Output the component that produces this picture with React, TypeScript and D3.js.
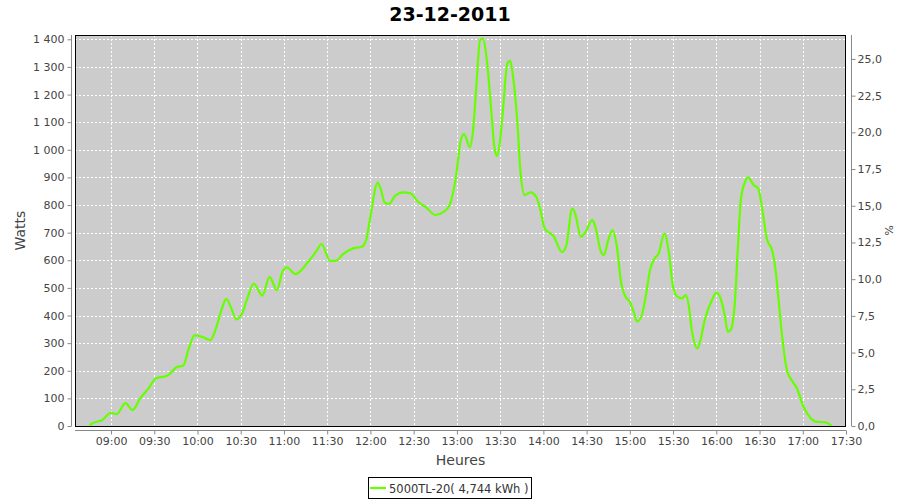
import React, { useEffect, useRef } from 'react';
import * as d3 from 'd3';

const title = '23-12-2011';
const seriesName = '5000TL-20( 4,744 kWh )';

// time of reading (HH:MM) and power in watts
const times = [
  '08:45', '08:48', '08:54', '09:00', '09:04', '09:10', '09:15', '09:20', '09:26', '09:31',
  '09:39', '09:46', '09:50', '09:54', '09:58', '10:03', '10:09', '10:12', '10:17', '10:20',
  '10:23', '10:27', '10:31', '10:35', '10:39', '10:45', '10:50', '10:55', '10:59', '11:02',
  '11:08', '11:16', '11:23', '11:26', '11:32', '11:36', '11:41', '11:48', '11:54', '11:57',
  '12:00', '12:05', '12:07', '12:10', '12:13', '12:17', '12:23', '12:28', '12:33', '12:39',
  '12:45', '12:51', '12:55', '12:59', '13:03', '13:05', '13:09', '13:11', '13:14', '13:16',
  '13:18', '13:21', '13:24', '13:26', '13:28', '13:30', '13:32', '13:35', '13:37', '13:39',
  '13:42', '13:44', '13:47', '13:51', '13:55', '13:58', '14:01', '14:07', '14:13', '14:16',
  '14:20', '14:22', '14:26', '14:29', '14:34', '14:36', '14:40', '14:42', '14:45', '14:48',
  '14:51', '14:54', '14:57', '15:00', '15:03', '15:05', '15:08', '15:11', '15:14', '15:17',
  '15:20', '15:24', '15:27', '15:30', '15:33', '15:36', '15:39', '15:41', '15:43', '15:47',
  '15:49', '15:52', '15:57', '16:00', '16:03', '16:06', '16:08', '16:10', '16:13', '16:15',
  '16:17', '16:20', '16:22', '16:26', '16:29', '16:32', '16:35', '16:39', '16:41', '16:43',
  '16:46', '16:49', '16:53', '16:56', '17:00', '17:03', '17:09', '17:16', '17:20',
];
const watts = [
  3, 12, 22, 48, 43, 83, 58, 98, 136, 172,
  182, 214, 218, 281, 328, 323, 311, 341, 426, 460,
  432, 386, 408, 468, 516, 472, 540, 492, 559, 574,
  550, 589, 637, 659, 598, 598, 622, 643, 649, 673,
  758, 881, 860, 808, 804, 833, 846, 842, 812, 790,
  764, 776, 800, 890, 1041, 1057, 1009, 1060, 1270, 1397,
  1403, 1313, 1132, 1011, 977, 1035, 1144, 1313, 1322, 1264,
  1096, 927, 836, 846, 830, 782, 714, 688, 630, 655,
  787, 770, 685, 700, 746, 722, 631, 619, 673, 709,
  649, 517, 468, 450, 408, 378, 396, 468, 565, 605,
  625, 697, 631, 504, 468, 462, 474, 432, 348, 281,
  311, 384, 456, 483, 462, 396, 341, 348, 456, 649,
  818, 884, 900, 872, 860, 782, 680, 631, 571, 468,
  311, 203, 160, 136, 76, 46, 16, 13, 0,
];

const wattTicks = [0, 100, 200, 300, 400, 500, 600, 700, 800, 900, 1000, 1100, 1200, 1300, 1400];
const pctTicks = [0, 2.5, 5, 7.5, 10, 12.5, 15, 17.5, 20, 22.5, 25];
const timeTicks = [
  '09:00', '09:30', '10:00', '10:30', '11:00', '11:30', '12:00', '12:30', '13:00',
  '13:30', '14:00', '14:30', '15:00', '15:30', '16:00', '16:30', '17:00', '17:30',
];

const toMin = (s: string) => {
  const [h, m] = s.split(':').map(Number);
  return h * 60 + m;
};

const W = 900;
const H = 500;

export default function App() {
  const ref = useRef<SVGSVGElement>(null);

  useEffect(() => {
    if (!ref.current) return;
    const svg = d3.select(ref.current);
    svg.selectAll('*').remove();

    const left = 75, right = 846, top = 35, bottom = 426;
    const font = 'DejaVu Sans, sans-serif';
    const grey = '#444';

    const x = d3.scaleLinear().domain([toMin('08:35'), toMin('17:30')]).range([left, right]);
    const y = d3.scaleLinear().domain([0, 1415.6]).range([bottom, top]);
    const yPct = d3.scaleLinear().domain([0, 26.63]).range([bottom, top]);

    svg.append('rect').attr('width', W).attr('height', H).attr('fill', '#fff');

    // plot background
    svg.append('rect')
      .attr('x', left).attr('y', top)
      .attr('width', right - left).attr('height', bottom - top)
      .attr('fill', '#cccccc');

    // grid
    const grid = svg.append('g')
      .attr('stroke', '#fff').attr('stroke-width', 1).attr('stroke-dasharray', '2,2')
      .attr('shape-rendering', 'crispEdges');
    grid.selectAll('line.h').data(wattTicks).enter().append('line')
      .attr('x1', left).attr('x2', right)
      .attr('y1', d => Math.round(y(d)) + 0.5).attr('y2', d => Math.round(y(d)) + 0.5);
    grid.selectAll('line.v').data(timeTicks.slice(0, -1)).enter().append('line')
      .attr('y1', top).attr('y2', bottom)
      .attr('x1', d => Math.round(x(toMin(d))) + 0.5).attr('x2', d => Math.round(x(toMin(d))) + 0.5);

    // series
    const pts = times.map((t, i) => [toMin(t), watts[i]] as [number, number]);
    const line = d3.line<[number, number]>()
      .x(d => x(d[0]))
      .y(d => y(d[1]))
      .curve(d3.curveMonotoneX);
    svg.append('path')
      .attr('d', line(pts))
      .attr('fill', 'none')
      .attr('stroke', '#66ff00')
      .attr('stroke-width', 2.2)
      .attr('stroke-linejoin', 'round');

    // plot outline
    svg.append('rect')
      .attr('x', left + 0.5).attr('y', top + 0.5)
      .attr('width', right - left - 1).attr('height', bottom - top)
      .attr('fill', 'none').attr('stroke', '#000').attr('stroke-width', 1);

    // left axis
    const yAxis = d3.axisLeft(y).tickValues(wattTicks).tickSize(4).tickPadding(3)
      .tickFormat(d => d3.format(',')(d as number).replace(',', ' '));
    const gl = svg.append('g').attr('transform', `translate(${71.5},0)`).call(yAxis);
    gl.select('.domain').attr('stroke', '#888').attr('d', `M0,${top}V${bottom}`);
    gl.selectAll('.tick line').attr('stroke', '#888');
    gl.selectAll('.tick text').attr('fill', grey).attr('font-family', font).attr('font-size', 11);

    // right axis
    const rAxis = d3.axisRight(yPct).tickValues(pctTicks).tickSize(4).tickPadding(2)
      .tickFormat(d => d3.format('.1f')(d as number).replace('.', ','));
    const gr = svg.append('g').attr('transform', `translate(${851.5},0)`).call(rAxis);
    gr.select('.domain').attr('stroke', '#888').attr('d', `M0,${top}V${bottom}`);
    gr.selectAll('.tick line').attr('stroke', '#888');
    gr.selectAll('.tick text').attr('fill', grey).attr('font-family', font).attr('font-size', 11);

    // bottom axis
    const xAxis = d3.axisBottom(x).tickValues(timeTicks.map(toMin)).tickSize(4).tickPadding(3)
      .tickFormat((d, i) => timeTicks[i]);
    const gb = svg.append('g').attr('transform', `translate(0,${430.5})`).call(xAxis);
    gb.select('.domain').attr('stroke', '#888').attr('d', `M${left},0H${right}`);
    gb.selectAll('.tick line').attr('stroke', '#888');
    gb.selectAll('.tick text').attr('fill', grey).attr('font-family', font).attr('font-size', 11);

    // title
    svg.append('text')
      .attr('x', 450).attr('y', 21)
      .attr('text-anchor', 'middle')
      .attr('font-family', font).attr('font-weight', 'bold').attr('font-size', 19)
      .attr('fill', '#000')
      .text(title);

    // axis labels
    svg.append('text')
      .attr('transform', `translate(25,${(top + bottom) / 2}) rotate(-90)`)
      .attr('text-anchor', 'middle')
      .attr('font-family', font).attr('font-size', 14).attr('fill', grey)
      .text('Watts');
    svg.append('text')
      .attr('x', (left + right) / 2).attr('y', 465)
      .attr('text-anchor', 'middle')
      .attr('font-family', font).attr('font-size', 14).attr('fill', grey)
      .text('Heures');
    svg.append('text')
      .attr('transform', `translate(885,${(top + bottom) / 2}) rotate(90)`)
      .attr('text-anchor', 'middle')
      .attr('font-family', font).attr('font-size', 11).attr('fill', grey)
      .text('%');

    // legend
    const lg = svg.append('g');
    lg.append('rect')
      .attr('x', 368.5).attr('y', 477.5).attr('width', 163).attr('height', 21)
      .attr('fill', '#fff').attr('stroke', '#000');
    lg.append('line')
      .attr('x1', 370).attr('x2', 386).attr('y1', 488).attr('y2', 488)
      .attr('stroke', '#66ff00').attr('stroke-width', 2.2);
    lg.append('text')
      .attr('x', 389).attr('y', 492.5)
      .attr('font-family', font).attr('font-size', 11.5).attr('fill', '#333')
      .text(seriesName);
  }, []);

  return (
    <svg
      ref={ref}
      width={W}
      height={H}
      style={{ position: 'absolute', left: 0, top: 0, display: 'block' }}
    />
  );
}
